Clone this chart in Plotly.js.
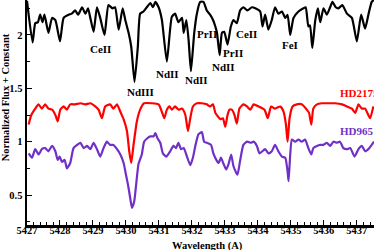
<!DOCTYPE html>
<html>
<head>
<meta charset="utf-8">
<script src="https://cdn.plot.ly/plotly-3.0.1.min.js"></script>
<style>html,body{margin:0;padding:0;background:#fff;}#chart{width:374px;height:250px;}</style>
</head>
<body>
<div id="chart"></div>
<script>
// Top spectrum (black)
const blackX = [5427.00,5427.17,5427.25,5427.33,5427.40,5427.47,5427.53,5427.65,5427.76,5427.86,5428.00,5428.11,5428.26,5428.36,5428.46,5428.55,5428.67,5428.77,5428.85,5428.92,5429.02,5429.12,5429.22,5429.35,5429.47,5429.59,5429.67,5429.78,5429.90,5429.98,5430.08,5430.16,5430.26,5430.36,5430.43,5430.53,5430.74,5430.82,5430.89,5430.99,5431.09,5431.24,5431.39,5431.49,5431.59,5431.70,5431.75,5431.83,5431.90,5431.97,5432.07,5432.15,5432.25,5432.35,5432.45,5432.55,5432.64,5432.71,5432.76,5432.84,5432.91,5432.98,5433.08,5433.18,5433.26,5433.36,5433.46,5433.56,5433.68,5433.82,5433.92,5434.07,5434.14,5434.22,5434.32,5434.42,5434.52,5434.62,5434.73,5434.83,5434.90,5434.98,5435.08,5435.23,5435.38,5435.45,5435.53,5435.58,5435.65,5435.74,5435.82,5435.89,5435.99,5436.09,5436.19,5436.26,5436.36,5436.44,5436.56,5436.70,5436.85,5437.00,5437.13,5437.25,5437.35,5437.45,5437.52];
const blackY = [2.32,1.93,2.11,2.12,2.19,2.12,2.19,2.02,2.16,2.14,1.94,2.16,2.19,2.20,2.23,2.19,2.26,2.20,2.25,2.16,2.03,2.26,2.16,2.00,2.28,2.25,2.26,2.05,2.25,2.14,2.02,1.89,1.56,1.89,2.20,2.22,2.30,2.26,2.31,2.26,2.14,1.75,2.17,2.20,2.12,2.16,2.02,2.14,1.95,1.66,2.02,2.20,2.31,2.31,2.23,2.19,2.14,2.08,2.02,1.81,2.02,2.03,1.91,2.08,2.14,2.11,2.23,2.26,2.23,2.26,2.25,2.22,2.08,2.19,2.05,2.14,2.26,2.20,2.22,2.16,2.19,2.00,2.16,2.22,2.25,2.26,2.08,2.09,1.88,2.14,2.25,2.12,2.25,2.19,2.26,2.31,2.26,2.25,2.28,2.20,2.16,1.94,2.19,2.06,2.19,2.31,2.33];

// HD217522 (red)
const redX = [5427.05,5427.13,5427.25,5427.35,5427.45,5427.55,5427.65,5427.76,5427.86,5427.93,5428.01,5428.11,5428.21,5428.31,5428.46,5428.62,5428.77,5428.92,5429.07,5429.17,5429.27,5429.37,5429.52,5429.62,5429.73,5429.83,5429.93,5430.03,5430.10,5430.16,5430.23,5430.33,5430.43,5430.55,5430.79,5430.99,5431.09,5431.16,5431.24,5431.32,5431.39,5431.49,5431.59,5431.70,5431.80,5431.88,5431.95,5432.03,5432.15,5432.30,5432.45,5432.55,5432.64,5432.71,5432.78,5432.86,5432.94,5433.01,5433.08,5433.14,5433.21,5433.29,5433.36,5433.44,5433.56,5433.67,5433.77,5433.87,5434.02,5434.20,5434.30,5434.40,5434.52,5434.68,5434.78,5434.85,5434.90,5434.96,5435.05,5435.18,5435.33,5435.48,5435.55,5435.62,5435.68,5435.79,5435.94,5436.14,5436.34,5436.55,5436.70,5436.85,5436.95,5437.05,5437.15,5437.25,5437.40,5437.50];
const redY = [1.16,1.25,1.31,1.35,1.31,1.35,1.31,1.30,1.25,1.19,1.30,1.33,1.30,1.35,1.35,1.36,1.35,1.36,1.33,1.30,1.22,1.33,1.35,1.31,1.35,1.28,1.21,1.10,0.91,0.80,0.97,1.19,1.30,1.36,1.36,1.35,1.28,1.22,1.30,1.33,1.30,1.33,1.30,1.31,1.25,1.10,1.22,1.33,1.36,1.36,1.35,1.33,1.35,1.27,1.24,1.21,1.22,1.14,1.25,1.30,1.30,1.25,1.17,1.31,1.35,1.33,1.30,1.35,1.33,1.30,1.22,1.33,1.31,1.33,1.28,1.16,1.00,1.22,1.33,1.35,1.35,1.30,1.27,1.16,1.31,1.35,1.36,1.36,1.36,1.35,1.33,1.31,1.27,1.35,1.31,1.31,1.22,1.33];

// HD965 (purple)
const purpleX = [5427.05,5427.15,5427.25,5427.35,5427.45,5427.55,5427.65,5427.76,5427.86,5427.93,5427.99,5428.06,5428.14,5428.21,5428.31,5428.41,5428.52,5428.62,5428.72,5428.82,5428.92,5429.02,5429.12,5429.22,5429.32,5429.42,5429.52,5429.62,5429.73,5429.83,5429.93,5430.00,5430.06,5430.13,5430.18,5430.25,5430.31,5430.38,5430.48,5430.55,5430.64,5430.74,5430.84,5430.89,5430.96,5431.04,5431.12,5431.22,5431.34,5431.44,5431.52,5431.59,5431.67,5431.75,5431.85,5431.95,5432.03,5432.11,5432.20,5432.30,5432.37,5432.45,5432.58,5432.65,5432.74,5432.81,5432.88,5432.96,5433.04,5433.11,5433.19,5433.26,5433.38,5433.46,5433.56,5433.67,5433.79,5433.87,5433.97,5434.05,5434.22,5434.32,5434.42,5434.52,5434.62,5434.73,5434.83,5434.90,5434.93,5434.98,5435.03,5435.13,5435.23,5435.33,5435.43,5435.53,5435.62,5435.68,5435.79,5435.89,5435.99,5436.09,5436.19,5436.29,5436.39,5436.49,5436.59,5436.70,5436.80,5436.93,5437.05,5437.15,5437.25,5437.35,5437.45,5437.52];
const purpleY = [0.89,0.85,0.93,0.88,0.93,0.94,0.91,0.96,0.91,0.83,0.86,0.81,0.83,0.75,0.80,0.94,0.97,0.99,0.94,0.96,0.93,0.99,0.93,0.86,0.94,1.00,0.97,0.97,0.93,0.88,0.80,0.69,0.60,0.47,0.38,0.44,0.60,0.79,0.88,1.00,1.03,1.05,1.05,1.08,1.03,0.99,0.89,0.86,0.91,0.96,0.94,0.99,0.93,0.94,0.86,0.78,0.85,0.97,1.07,1.09,1.00,0.99,0.97,0.89,0.83,0.80,0.85,0.79,0.74,0.79,0.88,0.77,0.69,0.82,0.97,1.00,0.99,1.00,0.96,0.89,0.93,0.89,0.91,0.97,0.91,0.86,0.85,0.72,0.63,0.88,1.02,1.00,1.02,1.00,1.02,0.94,0.88,0.94,0.96,0.97,0.97,0.99,0.96,1.00,0.99,1.00,0.94,0.93,0.94,0.86,0.93,0.96,0.91,0.93,0.97,1.00];

// Line identifications
const lineNames = ["CeII","NdIII","NdII","NdII","PrII","NdII","PrII","CeII","FeI"];
const lineNameX = [5429.22,5430.43,5431.25,5432.15,5432.47,5432.96,5433.26,5433.64,5434.98];
const lineNameY = [1.87,1.47,1.63,1.58,2.01,1.70,1.83,2.01,1.91];

// Star names
const starNames = ["HD217522","HD965"];
const starNameX = [5436.43,5436.44];
const starNameY = [1.46,1.10];

const xTicks = [5427,5428,5429,5430,5431,5432,5433,5434,5435,5436,5437];
const yTicks = [0.5,1,1.5,2];

const PURPLE = "#7030c8";
const FONT = "Liberation Serif, Times New Roman, serif";

const traces = [
  {x: blackX, y: blackY, mode: "lines", line: {color: "#000000", width: 2.2, shape: "spline", smoothing: 0.5}},
  {x: redX, y: redY, mode: "lines", line: {color: "#ff0000", width: 2.2, shape: "spline", smoothing: 0.5}},
  {x: purpleX, y: purpleY, mode: "lines", line: {color: PURPLE, width: 2.2, shape: "spline", smoothing: 0.5}}
];

const annotations = [];
lineNames.forEach((t, i) => annotations.push({
  x: lineNameX[i], y: lineNameY[i], text: t, showarrow: false,
  font: {family: FONT, size: 11, color: "#000", weight: "bold"}, xanchor: "center", yanchor: "middle"
}));
const starColors = ["#ff0000", PURPLE];
starNames.forEach((t, i) => annotations.push({
  x: starNameX[i], y: starNameY[i], text: t, showarrow: false,
  font: {family: FONT, size: 11, color: starColors[i], weight: "bold"}, xanchor: "left", yanchor: "middle"
}));
annotations.push({
  xref: "paper", yref: "paper", x: (207 - 26.7) / 347.3, y: -0.092, text: "Wavelength (A)", showarrow: false,
  font: {family: FONT, size: 10.5, color: "#000", weight: "bold"}, xanchor: "center", yanchor: "middle"
});
annotations.push({
  xref: "paper", yref: "paper", x: (5 - 26.7) / 347.3, y: (225 - 97) / 225, text: "Normalized Flux + Constant", showarrow: false,
  textangle: -90, font: {family: FONT, size: 10.5, color: "#000", weight: "bold"}, xanchor: "center", yanchor: "middle"
});

const layout = {
  width: 374, height: 250,
  margin: {l: 27, r: 0, t: 0, b: 25, pad: 0},
  paper_bgcolor: "#fff", plot_bgcolor: "#fff",
  showlegend: false,
  xaxis: {
    range: [5427, 5437.52], tickvals: xTicks, ticks: "inside", ticklen: 5, tickwidth: 1, tickcolor: "#000",
    minor: {dtick: 0.2, ticks: "inside", ticklen: 3, tickwidth: 1, tickcolor: "#000"},
    showline: true, linecolor: "#000", linewidth: 2.5, showgrid: false, zeroline: false,
    ticklabelstandoff: -6,
    tickfont: {family: FONT, size: 10.5, color: "#000", weight: "bold"}
  },
  yaxis: {
    range: [0.219, 2.328], tickvals: yTicks, ticks: "inside", ticklen: 5, tickwidth: 1, tickcolor: "#000",
    minor: {dtick: 0.25, ticks: "inside", ticklen: 3, tickwidth: 1, tickcolor: "#000"},
    showline: true, linecolor: "#000", linewidth: 2.5, showgrid: false, zeroline: false,
    tickfont: {family: FONT, size: 10.5, color: "#000", weight: "bold"}
  },
  annotations: annotations
};

Plotly.newPlot("chart", traces, layout, {staticPlot: true, displayModeBar: false});
</script>
</body>
</html>
